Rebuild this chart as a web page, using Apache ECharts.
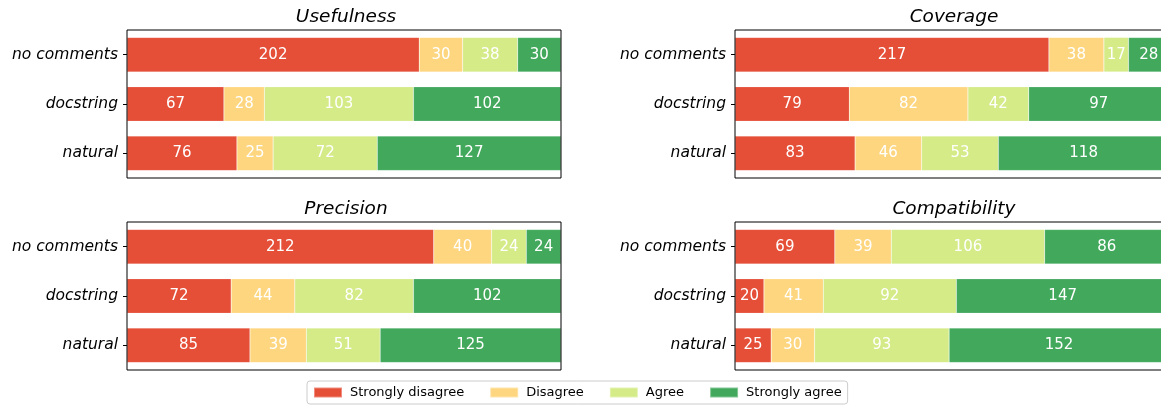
<!DOCTYPE html>
<html>
<head>
<meta charset="utf-8">
<script src="https://cdn.jsdelivr.net/npm/echarts@6/dist/echarts.min.js"></script>
<style>
html,body{margin:0;padding:0;background:#fff;}
#chart{width:1161px;height:408px;}
</style>
</head>
<body>
<div id="chart"></div>
<script>
// Categories (top to bottom)
const categories = ['no comments', 'docstring', 'natural'];
const levels = ['Strongly disagree', 'Disagree', 'Agree', 'Strongly agree'];
const panelTitles = ['Usefulness', 'Coverage', 'Precision', 'Compatibility'];

// Values per panel, per level, for [no comments, docstring, natural]
const usefulnessStronglyDisagree = [202, 67, 76];
const usefulnessDisagree = [30, 28, 25];
const usefulnessAgree = [38, 103, 72];
const usefulnessStronglyAgree = [30, 102, 127];

const coverageStronglyDisagree = [217, 79, 83];
const coverageDisagree = [38, 82, 46];
const coverageAgree = [17, 42, 53];
const coverageStronglyAgree = [28, 97, 118];

const precisionStronglyDisagree = [212, 72, 85];
const precisionDisagree = [40, 44, 39];
const precisionAgree = [24, 82, 51];
const precisionStronglyAgree = [24, 102, 125];

const compatibilityStronglyDisagree = [69, 20, 25];
const compatibilityDisagree = [39, 41, 30];
const compatibilityAgree = [106, 92, 93];
const compatibilityStronglyAgree = [86, 147, 152];

const totalResponses = 300;

const panelData = [
  [usefulnessStronglyDisagree, usefulnessDisagree, usefulnessAgree, usefulnessStronglyAgree],
  [coverageStronglyDisagree, coverageDisagree, coverageAgree, coverageStronglyAgree],
  [precisionStronglyDisagree, precisionDisagree, precisionAgree, precisionStronglyAgree],
  [compatibilityStronglyDisagree, compatibilityDisagree, compatibilityAgree, compatibilityStronglyAgree]
];

const colors = ['#e54e37', '#fed67f', '#d4eb88', '#42a85c'];
const FONT = 'DejaVu Sans';

const gridPos = [
  {left: 127, top: 30},
  {left: 735, top: 30},
  {left: 127, top: 222},
  {left: 735, top: 222}
];

const grids = gridPos.map(p => ({
  left: p.left, top: p.top, width: 434, height: 148,
  outerBoundsMode: 'none', containLabel: false,
  show: true, borderColor: '#000', borderWidth: 1,
  backgroundColor: 'transparent', z: 10
}));

const xAxes = gridPos.map((p, i) => ({
  type: 'value', gridIndex: i, min: 0, max: totalResponses,
  axisLine: {show: false}, axisTick: {show: false},
  axisLabel: {show: false}, splitLine: {show: false}
}));

const yAxes = gridPos.map((p, i) => ({
  type: 'category', gridIndex: i, data: categories, inverse: true,
  axisLine: {show: false},
  axisTick: {show: true, length: 4, alignWithLabel: true, lineStyle: {color: '#000', width: 1}},
  axisLabel: {fontFamily: FONT, fontStyle: 'italic', fontSize: 15.5, color: '#000', margin: 9}
}));

const titles = gridPos.map((p, i) => ({
  text: panelTitles[i],
  left: p.left + 214, top: p.top - 27, textAlign: 'center',
  textStyle: {fontFamily: FONT, fontStyle: 'italic', fontWeight: 'normal', fontSize: 18.5, color: '#000'}
}));

const series = [];
panelData.forEach((panel, gi) => {
  panel.forEach((vals, li) => {
    series.push({
      type: 'bar', name: levels[li], stack: 'p' + gi,
      xAxisIndex: gi, yAxisIndex: gi,
      data: vals, barWidth: '70%',
      itemStyle: {color: colors[li], borderColor: 'rgba(255,255,255,0.35)', borderWidth: 0.5},
      label: {show: true, position: 'inside', color: '#fff', fontFamily: FONT, fontSize: 15},
      emphasis: {disabled: true},
      animation: false
    });
  });
});

const chart = echarts.init(document.getElementById('chart'), null, {renderer: 'canvas'});
chart.setOption({
  animation: false,
  title: titles,
  grid: grids,
  xAxis: xAxes,
  yAxis: yAxes,
  legend: {
    data: levels,
    left: 307, top: 381,
    orient: 'horizontal',
    itemWidth: 28, itemHeight: 10, itemGap: 25,
    icon: 'rect',
    padding: [5, 6],
    borderColor: '#cccccc', borderWidth: 1, borderRadius: 3,
    textStyle: {fontFamily: FONT, fontSize: 13, color: '#000', padding: [0, 0, 0, 3]}
  },
  series: series
});
</script>
</body>
</html>
